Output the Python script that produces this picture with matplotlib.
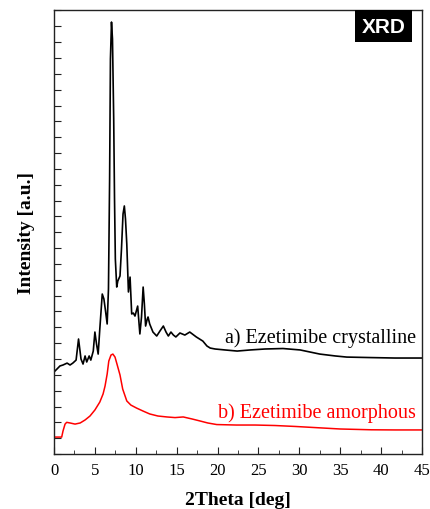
import matplotlib
matplotlib.use("Agg")
import matplotlib.pyplot as plt
from matplotlib.patches import Rectangle
from matplotlib.ticker import MultipleLocator

# 2Theta positions [deg] and intensities [a.u.] for the crystalline sample
theta_cryst = [0.0, 0.37, 0.73, 1.1, 1.6, 1.96, 2.3, 2.7, 3.0, 3.3, 3.55, 3.8, 4.0, 4.3, 4.5,
               4.8, 5.0, 5.2, 5.4, 5.6, 5.9, 6.1, 6.3, 6.5, 6.66, 6.8, 6.9, 7.03, 7.15, 7.3,
               7.4, 7.5, 7.67, 7.8, 8.07, 8.25, 8.44, 8.6, 8.74, 8.9, 9.1, 9.3, 9.5, 9.7, 9.9,
               10.23, 10.5, 10.7, 10.9, 11.05, 11.2, 11.4, 11.5, 11.7, 12.1, 12.56, 12.96,
               13.37, 13.7, 13.98, 14.3, 14.6, 14.9, 15.4, 16.0, 16.6, 17.4, 18.2, 18.7, 19.1,
               19.7, 20.9, 22.4, 24.0, 25.8, 28.0, 30.1, 32.5, 34.4, 35.8, 38.6, 41.7, 45.0]
int_cryst = [518, 537, 556, 562, 574, 562, 574, 593, 726, 600, 568, 619, 581, 619, 593,
             650, 770, 694, 631, 789, 1010, 979, 903, 821, 1042, 1736, 2494, 2727, 2620, 2115,
             1610, 1231, 1054, 1092, 1124, 1294, 1515, 1566, 1484, 1326, 1023, 1117, 884, 890, 871,
             934, 758, 865, 1054, 947, 808, 852, 865, 821, 770, 745, 777,
             808, 770, 745, 770, 751, 739, 764, 751, 770, 739, 713, 682, 669,
             663, 657, 650, 657, 663, 666, 657, 631, 619, 612, 609, 606, 606]

# amorphous sample
theta_amor = [0.0, 0.94, 1.1, 1.35, 1.55, 1.96, 2.57, 3.2, 3.8, 4.4, 5.0, 5.6, 6.0, 6.24, 6.5,
              6.7, 6.97, 7.2, 7.46, 7.7, 8.07, 8.4, 8.9, 9.4, 10.1, 10.9, 11.7, 12.7, 13.8,
              14.8, 15.8, 16.9, 17.9, 18.8, 19.9, 22.3, 24.6, 27.0, 29.5, 31.9, 35.0, 38.8,
              41.7, 45.0]
int_amor = [107, 107, 145, 189, 200, 196, 189, 196, 215, 240, 278, 328, 379, 429, 505,
            587, 625, 631, 612, 568, 499, 410, 335, 309, 290, 271, 253, 240, 234,
            230, 234, 221, 208, 196, 186, 183, 183, 180, 174, 167, 158, 153,
            152, 152]

serif = ["Liberation Serif", "DejaVu Serif"]

fig = plt.figure(figsize=(4.3, 5.1), dpi=100)
ax = fig.add_axes([0.1256, 0.1078, 0.8558, 0.8706])

ax.plot(theta_cryst, int_cryst, color="black", lw=1.2)
ax.plot(theta_amor, int_amor, color="red", lw=1.1)

ax.set_xlim(0, 45)
ax.set_ylim(0, 2803)
ax.xaxis.set_major_locator(MultipleLocator(5))
ax.xaxis.set_minor_locator(MultipleLocator(2.5))
ax.yaxis.set_major_locator(MultipleLocator(100))
ax.tick_params(axis="x", which="both", direction="in", top=False, pad=6,
               labelsize=12, colors="#222222", labelcolor="black")
ax.tick_params(axis="x", which="major", length=5)
ax.tick_params(axis="x", which="minor", length=3)
ax.tick_params(axis="y", direction="in", length=5, right=False, labelleft=False,
               colors="#222222")
for lab in ax.get_xticklabels():
    lab.set_family(serif)
for sp in ax.spines.values():
    sp.set_color("#222222")
    sp.set_linewidth(1.0)

ax.set_xlabel("2Theta [deg]", family=serif, fontsize=14, fontweight="bold", labelpad=9)
ax.set_ylabel("Intensity [a.u.]", family=serif, fontsize=14, fontweight="bold", labelpad=14)

ax.text(44.25, 707, "a) Ezetimibe crystalline", family=serif, fontsize=14.5,
        color="black", ha="right", va="baseline")
ax.text(44.3, 232, "b) Ezetimibe amorphous", family=serif, fontsize=14.5,
        color="red", ha="right", va="baseline")

# black tag in the upper right corner
ax.add_patch(Rectangle((0.818, 0.928), 0.155, 0.072, transform=ax.transAxes,
                       facecolor="black", edgecolor="none", zorder=5))
ax.text(0.8955, 0.964, "XRD", transform=ax.transAxes, family=["Liberation Sans", "DejaVu Sans"],
        fontsize=15, fontweight="bold", color="white", ha="center", va="center", zorder=6)

fig.savefig("out.png", dpi=100)
